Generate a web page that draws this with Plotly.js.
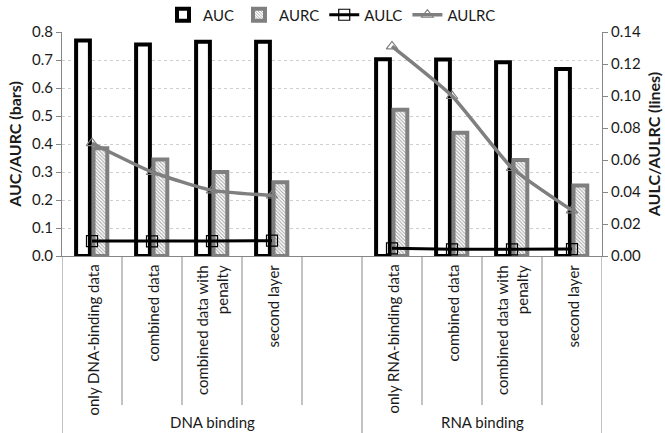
<!DOCTYPE html>
<html>
<head>
<meta charset="utf-8">
<script src="https://cdn.plot.ly/plotly-3.0.1.min.js"></script>
<style>html,body{margin:0;padding:0;background:#fff;}#chart{width:665px;height:433px;}</style>
</head>
<body>
<div id="chart"></div>
<script>
// ---- data ----
var groupNames = ['DNA binding', 'RNA binding'];
var dnaCategories = ['only DNA-binding data', 'combined data', 'combined data with<br>penalty', 'second layer'];
var rnaCategories = ['only RNA-binding data', 'combined data', 'combined data with<br>penalty', 'second layer'];
var aucDNA = [0.770, 0.755, 0.765, 0.765];
var aucRNA = [0.703, 0.702, 0.692, 0.668];
var aurcDNA = [0.385, 0.345, 0.300, 0.263];
var aurcRNA = [0.522, 0.440, 0.343, 0.252];
var aulcDNA = [0.0093, 0.0091, 0.0093, 0.0096];
var aulcRNA = [0.0048, 0.0042, 0.0042, 0.0043];
var aulrcDNA = [0.0705, 0.0525, 0.0410, 0.0378];
var aulrcRNA = [0.1310, 0.1000, 0.0550, 0.0285];
var leftTicks = [0, 0.1, 0.2, 0.3, 0.4, 0.5, 0.6, 0.7, 0.8];
var rightTicks = [0, 0.02, 0.04, 0.06, 0.08, 0.10, 0.12, 0.14];

// ---- build slots: DNA group has an extra empty slot ----
var labels = dnaCategories.concat(['']).concat(rnaCategories);
var xs = labels.map(function (_, i) { return i; });
function join(a, b) { return a.concat([null]).concat(b); }
var auc = join(aucDNA, aucRNA);
var aurc = join(aurcDNA, aurcRNA);
var aulc = join(aulcDNA, aulcRNA);
var aulrc = join(aulrcDNA, aulrcRNA);
var dnaSlots = dnaCategories.length + 1;

var FONT = 'Lato, "Open Sans", sans-serif';
var TXT = '#1a1a1a';
var AX = '#868686';

var traces = [
  {type: 'bar', name: 'AUC', x: xs, y: auc, width: 0.23, offset: -0.265,
   marker: {color: '#ffffff', line: {color: '#000000', width: 4}}, yaxis: 'y'},
  {type: 'bar', name: 'AURC', x: xs, y: aurc, width: 0.23, offset: 0.025,
   marker: {color: '#ffffff', line: {color: '#7f7f7f', width: 4},
            pattern: {shape: '\\', fgcolor: '#a0a0a0', bgcolor: '#ffffff', size: 2.5, solidity: 0.4}}, yaxis: 'y'},
  {type: 'scatter', mode: 'lines+markers', name: 'AULC', x: xs, y: aulc, yaxis: 'y2', connectgaps: false,
   line: {color: '#000000', width: 3},
   marker: {symbol: 'square-open', size: 11, color: '#000000', line: {width: 1.2}}},
  {type: 'scatter', mode: 'lines+markers', name: 'AULRC', x: xs, y: aulrc, yaxis: 'y2', connectgaps: false,
   line: {color: '#7f7f7f', width: 3.5, shape: 'spline', smoothing: 0.5},
   marker: {symbol: 'triangle-up-open', size: 10, color: '#7f7f7f', line: {width: 1.2}}}
];

// ---- x-axis dividers and labels ----
var shapes = [];
var annotations = [];
var plotH = 433 - 32 - 177;
for (var k = 0; k <= labels.length; k++) {
  var full = (k === 0 || k === dnaSlots || k === labels.length);
  shapes.push({type: 'line', xref: 'x', yref: 'paper', x0: k - 0.5, x1: k - 0.5,
    y0: 0, y1: full ? -200 / plotH : -149 / plotH, line: {color: AX, width: 1}});
}
labels.forEach(function (lab, i) {
  if (!lab) return;
  annotations.push({xref: 'x', yref: 'paper', x: i, y: -7 / plotH, text: lab, showarrow: false,
    textangle: -90, xanchor: 'center', yanchor: 'top', align: 'right',
    font: {family: FONT, size: 15, color: TXT}});
});
annotations.push({xref: 'x', yref: 'paper', x: (dnaSlots - 1) / 2, y: -166 / plotH, text: groupNames[0],
  showarrow: false, xanchor: 'center', yanchor: 'middle', font: {family: FONT, size: 15, color: TXT}});
annotations.push({xref: 'x', yref: 'paper', x: (dnaSlots + labels.length - 1) / 2, y: -166 / plotH, text: groupNames[1],
  showarrow: false, xanchor: 'center', yanchor: 'middle', font: {family: FONT, size: 15, color: TXT}});

var layout = {
  width: 665, height: 433,
  margin: {l: 62, r: 63, t: 32, b: 177, pad: 0, autoexpand: false},
  paper_bgcolor: '#ffffff', plot_bgcolor: '#ffffff',
  font: {family: FONT, size: 15, color: TXT},
  barmode: 'overlay',
  showlegend: true,
  legend: {orientation: 'h', x: 0.5, xanchor: 'center', y: 1 + 17 / plotH, yanchor: 'middle',
           font: {family: FONT, size: 15, color: TXT}, itemwidth: 30, tracegroupgap: 0,
           traceorder: 'normal', bgcolor: 'rgba(0,0,0,0)'},
  xaxis: {range: [-0.5, labels.length - 0.5], showticklabels: false, showgrid: false, zeroline: false,
          showline: true, linecolor: AX, linewidth: 1, ticks: '', fixedrange: true},
  yaxis: {range: [0, 0.8], tickvals: leftTicks, tickformat: '.1f', showgrid: true,
          gridcolor: '#cfcfcf', griddash: '3px,3px', gridwidth: 1, zeroline: false,
          showline: true, linecolor: AX, linewidth: 1, ticks: 'outside', ticklen: 5, tickcolor: AX,
          tickfont: {family: FONT, size: 15, color: TXT},
          title: {text: '<b>AUC/AURC (bars)</b>', font: {family: FONT, size: 16, color: TXT}, standoff: 6}},
  yaxis2: {range: [0, 0.14], tickvals: rightTicks, tickformat: '.2f', overlaying: 'y', side: 'right',
          showgrid: false, zeroline: false, showline: true, linecolor: AX, linewidth: 1,
          ticks: 'outside', ticklen: 5, tickcolor: AX,
          tickfont: {family: FONT, size: 15, color: TXT},
          title: {text: '<b>AULC/AULRC (lines)</b>', font: {family: FONT, size: 16, color: TXT}, standoff: 8}},
  shapes: shapes,
  annotations: annotations
};

Plotly.newPlot('chart', traces, layout, {staticPlot: true, displayModeBar: false});
</script>
</body>
</html>
